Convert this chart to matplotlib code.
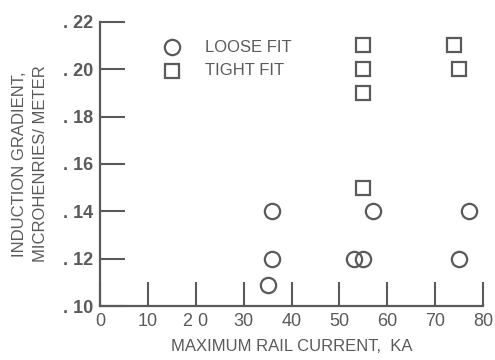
import matplotlib

matplotlib.use("Agg")
import matplotlib.pyplot as plt

# Induction gradient vs. maximum rail current
loose_current = [35, 36, 36, 53, 55, 57, 75, 77]
loose_gradient = [0.109, 0.12, 0.14, 0.12, 0.12, 0.14, 0.12, 0.14]
tight_current = [55, 55, 55, 55, 74, 75]
tight_gradient = [0.15, 0.19, 0.20, 0.21, 0.21, 0.20]

x_ticks = [0, 10, 20, 30, 40, 50, 60, 70, 80]
x_tick_labels = ["0", "10", "2 0", "30", "40", "50", "60", "70", "80"]
y_ticks = [0.10, 0.12, 0.14, 0.16, 0.18, 0.20, 0.22]
y_tick_labels = [". 10", ". 12", ". 14", ". 16", ". 18", ". 20", ". 22"]

ink = "#5a5a5a"
plt.rcParams["font.family"] = ["Liberation Sans Narrow", "Liberation Sans", "DejaVu Sans"]

fig = plt.figure(figsize=(4.95, 3.6), dpi=100)
ax = fig.add_axes([0.202, 0.149, 0.774, 0.791])

marker_style = dict(linestyle="none", markerfacecolor="none", markeredgecolor=ink,
                    markeredgewidth=1.6, markersize=11, clip_on=False)
square_style = dict(marker_style, markersize=9.5)
ax.plot(loose_current, loose_gradient, marker="o", **marker_style)
ax.plot(tight_current, tight_gradient, marker="s", **square_style)

# legend drawn by hand, as on the original plate
ax.plot([15], [0.2092], marker="o", **marker_style)
ax.plot([15], [0.1992], marker="s", **square_style)
ax.text(22, 0.2092, "LOOSE FIT", va="center", ha="left", fontsize=12, color=ink)
ax.text(22, 0.1992, "TIGHT FIT", va="center", ha="left", fontsize=12, color=ink)

ax.set_xlim(0, 80)
ax.set_ylim(0.10, 0.22)
ax.set_xticks(x_ticks)
ax.set_xticklabels(x_tick_labels)
ax.set_yticks(y_ticks)
ax.set_yticklabels(y_tick_labels, fontweight="bold")
ax.tick_params(axis="x", direction="in", length=17, width=1.5, color=ink,
               labelcolor=ink, labelsize=13, pad=5)
ax.tick_params(axis="y", direction="in", length=18, width=1.5, color=ink,
               labelcolor=ink, labelsize=13, pad=5)

for side in ("top", "right"):
    ax.spines[side].set_visible(False)
for side in ("left", "bottom"):
    ax.spines[side].set_color(ink)
    ax.spines[side].set_linewidth(1.6)

ax.set_xlabel("MAXIMUM RAIL CURRENT,  KA", fontsize=12, color=ink, labelpad=6)
ax.set_ylabel("INDUCTION GRADIENT,\nMICROHENRIES/ METER", fontsize=12, color=ink,
              labelpad=11, linespacing=1.5)

fig.savefig("out.png", dpi=100)
plt.close(fig)
